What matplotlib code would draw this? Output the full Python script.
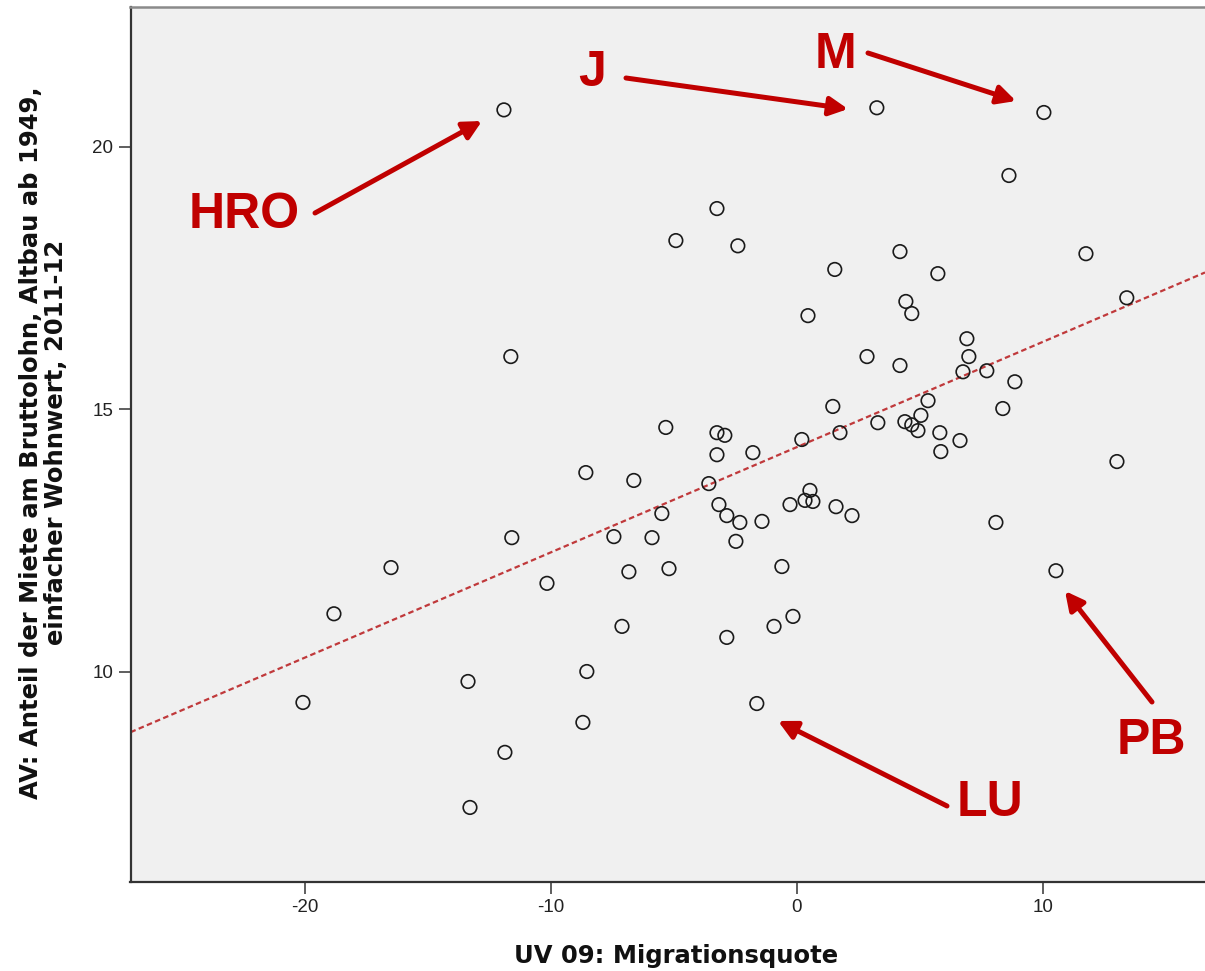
import matplotlib.pyplot as plt
import numpy as np

# migration rate (x) vs rent share of gross income (y), one circle per city
migration = [
    -11.91, 3.25, 10.04, 8.62, -3.25, -4.92, -2.40, 4.19, 11.75, 1.54,
    5.73, 13.41, 4.43, 4.67, 0.45, 6.91, -11.63, 2.85, 6.99, 4.19,
    6.75, 7.72, 8.86, 5.33, 1.46, 8.37, 5.04, 3.29, 4.39, 4.67,
    4.92, -5.33, -3.25, -2.93, 1.75, 5.81, 6.63, 0.20, -3.25, -1.79,
    5.85, 13.01, -8.58, -6.63, -3.58, 0.53, -3.17, -0.28, 0.33, 0.65,
    1.59, -2.85, -5.49, 2.24, -2.32, -1.42, 8.09, -7.44, -5.89, -11.59,
    -2.48, -16.50, -5.20, -0.61, -6.83, 10.53, -10.16, -18.82, -7.11, -0.16,
    -0.93, -2.85, -8.54, -13.37, -20.08, -1.63, -8.70, -11.87, -13.29,
]
rent_share = [
    20.70, 20.74, 20.65, 19.45, 18.82, 18.21, 18.11, 18.00, 17.96, 17.66,
    17.58, 17.12, 17.05, 16.82, 16.78, 16.34, 16.00, 16.00, 16.00, 15.83,
    15.71, 15.73, 15.52, 15.16, 15.05, 15.01, 14.88, 14.74, 14.76, 14.70,
    14.59, 14.65, 14.55, 14.50, 14.55, 14.55, 14.40, 14.42, 14.13, 14.17,
    14.19, 14.00, 13.79, 13.64, 13.58, 13.45, 13.18, 13.18, 13.26, 13.24,
    13.14, 12.97, 13.01, 12.97, 12.84, 12.86, 12.84, 12.57, 12.55, 12.55,
    12.48, 11.98, 11.96, 12.00, 11.90, 11.92, 11.68, 11.10, 10.86, 11.05,
    10.86, 10.65, 10.00, 9.81, 9.41, 9.39, 9.03, 8.46, 7.41,
]
x_ticks = [-20, -10, 0, 10]
y_ticks = [10, 15, 20]

red = '#C00000'
arial = ['Liberation Sans', 'DejaVu Sans']

fig = plt.figure(figsize=(12.05, 9.71), dpi=100)
fig.patch.set_facecolor('white')
ax = fig.add_axes([130.5 / 1205, 89 / 971, (1205 - 130.5) / 1205, 875 / 971])
ax.set_facecolor('#F0F0F0')

xlim = (-27.09, 16.59)
ax.set_xlim(*xlim)
ax.set_ylim(5.99, 22.66)

ax.scatter(migration, rent_share, s=95, facecolors='none', edgecolors='#1a1a1a',
           linewidths=1.2, zorder=3)

# least squares fit line
slope, icpt = np.polyfit(migration, rent_share, 1)
xs = np.array(xlim)
ax.plot(xs, icpt + slope * xs, color='#C0393B', lw=1.6,
        linestyle=(0, (2.5, 1.5)), zorder=2)

for side in ['left', 'bottom']:
    ax.spines[side].set_color('#333333')
    ax.spines[side].set_linewidth(1.6)
ax.spines['top'].set_color('#8a8a8a')
ax.spines['top'].set_linewidth(1.8)
ax.spines['right'].set_visible(False)

ax.set_xticks(x_ticks)
ax.set_yticks(y_ticks)
ax.set_xticklabels([str(t) for t in x_ticks], family=arial, fontsize=13.5, color='#222222')
ax.set_yticklabels([str(t) for t in y_ticks], family=arial, fontsize=13.5, color='#222222')
ax.tick_params(direction='out', length=8.5, width=1.1, color='#333333', pad=4)

ax.set_xlabel('UV 09: Migrationsquote', family='DejaVu Sans', fontsize=17.5,
              fontweight='bold', color='#111111')
ax.xaxis.set_label_coords(0.508, -0.071)
ax.set_ylabel('AV: Anteil der Miete am Bruttolohn, Altbau ab 1949,\neinfacher Wohnwert, 2011-12',
              family='DejaVu Sans', fontsize=17.5, fontweight='bold', color='#111111',
              linespacing=1.05)
ax.yaxis.set_label_coords(-0.0586, 0.502)

# city labels with arrows, positions in image pixels (top-left origin)
H = 971
labels = [
    ('HRO', (244, 215), (315, 213), (482, 121)),
    ('J', (592, 73), (626, 78), (848, 109)),
    ('M', (835, 55), (868, 53), (1016, 101)),
    ('LU', (990, 803), (947, 806), (778, 721)),
    ('PB', (1151, 741), (1152, 702), (1065, 591)),
]
for name, txt, tail, tip in labels:
    fig.text(txt[0] / 1205, (H - txt[1]) / H, name, color=red, fontsize=36,
             fontweight='bold', family=arial, ha='center', va='center')
    ax.annotate('', xy=(tip[0], H - tip[1]), xycoords='figure pixels',
                xytext=(tail[0], H - tail[1]), textcoords='figure pixels',
                arrowprops=dict(arrowstyle='-|>,head_length=0.55,head_width=0.28',
                                color=red, lw=3.6, mutation_scale=20,
                                shrinkA=0, shrinkB=0), zorder=5)

fig.savefig('out.png', dpi=100)
